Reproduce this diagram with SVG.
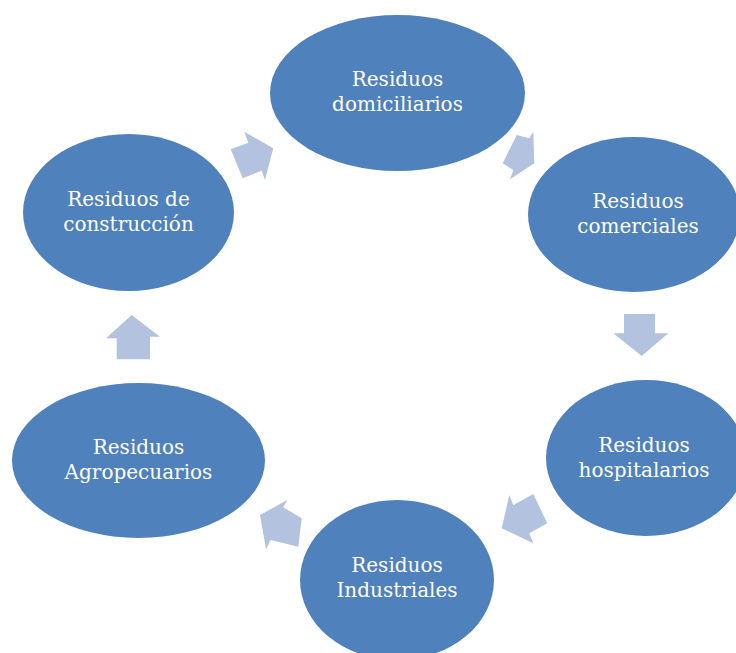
<svg xmlns="http://www.w3.org/2000/svg" width="736" height="653" viewBox="0 0 736 653">
<style>
.n{fill:#4F81BD;}
.a{fill:#B3C3DF;}
.t{font-family:"DejaVu Serif","Liberation Serif",serif;font-size:20px;fill:#FFFFFF;text-anchor:middle;}
</style>
<rect width="736" height="653" fill="#FFFFFF"/>
<g id="connectors">
<polygon class="a" points="230.7,149.3 248.3,142.7 244.3,131.7 273.3,148.3 265,180 261.7,170.7 242.7,178.3"/>
<polygon class="a" points="516.7,135 529.3,138.3 533.3,131.7 534.3,163.3 510,179.3 513.3,170 502.7,163.3"/>
<polygon class="a" points="624,314 655,314 655,333.3 668.3,333.3 641.7,356 613.3,333.3 624,333.3"/>
<polygon class="a" points="533.3,494 547.3,523.3 529.3,533.3 533.3,543.3 501.7,528.3 509.3,495 513.3,505"/>
<polygon class="a" points="301.7,518.3 298.3,546.7 270.7,540 266,549.3 260,515 287.3,500 283.3,507.3"/>
<polygon class="a" points="116.7,359.3 150,359.3 150,336.7 160,336.7 131.7,315 106,338.3 116.7,338.3"/>
</g>
<g id="domiciliarios">
<ellipse class="n" cx="397.5" cy="93" rx="127.5" ry="78"/>
<text class="t" x="397.5" y="86">Residuos</text>
<text class="t" x="397.5" y="111">domiciliarios</text>
</g>
<g id="comerciales">
<ellipse class="n" cx="634" cy="214.5" rx="106" ry="77.5"/>
<text class="t" x="638" y="208">Residuos</text>
<text class="t" x="638" y="233">comerciales</text>
</g>
<g id="hospitalarios">
<ellipse class="n" cx="646" cy="458" rx="100" ry="78"/>
<text class="t" x="644" y="452">Residuos</text>
<text class="t" x="644" y="477">hospitalarios</text>
</g>
<g id="industriales">
<ellipse class="n" cx="397" cy="580" rx="97" ry="80"/>
<text class="t" x="397" y="572">Residuos</text>
<text class="t" x="397" y="597">Industriales</text>
</g>
<g id="agropecuarios">
<ellipse class="n" cx="138.5" cy="460.5" rx="126.5" ry="77.5"/>
<text class="t" x="138.5" y="454">Residuos</text>
<text class="t" x="138.5" y="479">Agropecuarios</text>
</g>
<g id="construccion">
<ellipse class="n" cx="128.5" cy="212.5" rx="105.5" ry="78.5"/>
<text class="t" x="128.5" y="206">Residuos de</text>
<text class="t" x="128.5" y="231">construcción</text>
</g>
</svg>
